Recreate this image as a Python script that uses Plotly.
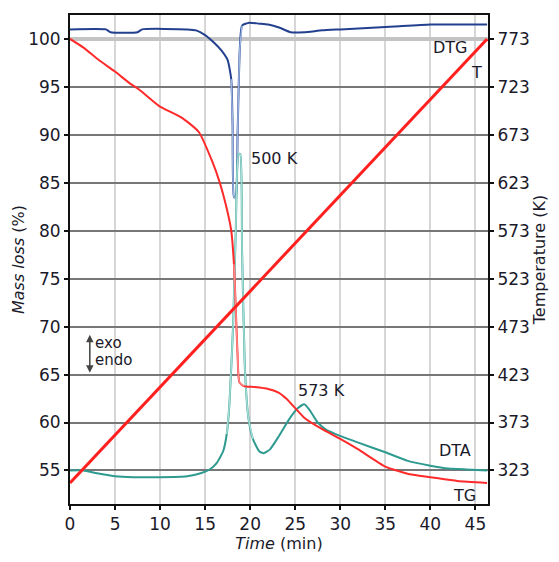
import plotly.graph_objects as go

# ---------------- data ----------------
time_ticks = [0, 5, 10, 15, 20, 25, 30, 35, 40, 45]
mass_ticks = [55, 60, 65, 70, 75, 80, 85, 90, 95, 100]
temp_ticks = [323, 373, 423, 473, 523, 573, 623, 673, 723, 773]

# TG curve (mass loss, %)
tg_t = [0, 1.5, 3.2, 5, 6.6, 7.7, 9.9, 12.4, 14.3, 15.8, 16.6, 17.3, 17.9, 18.2, 18.4, 18.6,
        18.8, 19.3, 20.5, 22, 23.2, 24, 25, 26, 28, 30, 32, 35, 37.7, 40, 43, 46.3]
tg_v = [100, 99.1, 97.8, 96.6, 95.4, 94.7, 93.0, 91.8, 90.3, 87.2, 85.1, 82.7, 80.0, 76.5,
        72.0, 67.0, 64.2, 63.8, 63.7, 63.5, 63.1, 62.5, 61.5, 60.5, 59.3, 58.3, 57.2, 55.4,
        54.6, 54.3, 53.9, 53.7]

# DTG curve (plotted on the mass scale)
dtg_t = [0, 4, 4.5, 7.5, 8, 13, 14, 15, 16, 16.8, 17.5, 17.9, 18.05, 18.2, 18.4, 18.6,
         18.85, 19.1, 19.9, 21, 22, 23.2, 24.5, 26, 28, 30, 32, 36, 40, 46.3]
dtg_v = [101.0, 101.0, 100.7, 100.7, 101.0, 101.0, 100.9, 100.4, 99.6, 98.8, 97.8, 95.8,
         91.0, 83.5, 83.5, 90.0, 99.0, 101.4, 101.7, 101.6, 101.5, 101.2, 100.7, 100.7,
         100.9, 101.0, 101.1, 101.3, 101.5, 101.5]

# DTA curve (plotted on the mass scale)
dta_t = [0, 1.5, 3, 5, 7, 10, 13, 14.5, 15.5, 16.3, 17.0, 17.4, 17.7, 18.1, 18.4, 18.7,
         18.9, 19.1, 19.4, 19.8, 20.3, 21.0, 21.5, 22.2, 23.2, 24.3, 25.3, 26.0, 26.6,
         27.5, 28.5, 30, 32, 35, 37.5, 40, 42, 44, 46.3]
dta_v = [55.0, 55.0, 54.7, 54.4, 54.3, 54.3, 54.4, 54.7, 55.1, 55.8, 57.0, 58.8, 62.0,
         70.0, 80.0, 88.0, 88.0, 78.0, 66.0, 60.5, 58.3, 57.0, 56.8, 57.2, 58.6, 60.3,
         61.5, 61.9, 61.3, 60.0, 59.2, 58.6, 57.9, 56.9, 56.0, 55.5, 55.2, 55.1, 55.0]

# Temperature programme (K)
temp_t = [0, 46.3]
temp_v = [310, 773]

FONT = "DejaVu Sans"
TXT = "#1a1a2a"
SM = dict(shape="spline", smoothing=0.5)

fig = go.Figure()

# thick light line at 100 % (drawn as a trace so it sits above the grid, below the curves)
fig.add_trace(go.Scatter(x=[0, 46.4], y=[100, 100], mode="lines",
                         line=dict(color="#c4c4c4", width=4), hoverinfo="skip"))

# DTG
fig.add_trace(go.Scatter(x=dtg_t, y=dtg_v, mode="lines",
                         line=dict(color="#23408f", width=2, **SM), hoverinfo="skip"))
fig.add_trace(go.Scatter(x=dtg_t[11:18], y=dtg_v[11:18], mode="lines",
                         line=dict(color="#9db6e0", width=1.5, **SM), hoverinfo="skip"))
# DTA
fig.add_trace(go.Scatter(x=dta_t, y=dta_v, mode="lines",
                         line=dict(color="#2e9a90", width=2, **SM), hoverinfo="skip"))
fig.add_trace(go.Scatter(x=dta_t[11:21], y=dta_v[11:21], mode="lines",
                         line=dict(color="#a6ded6", width=1.5, **SM), hoverinfo="skip"))
# TG
fig.add_trace(go.Scatter(x=tg_t, y=tg_v, mode="lines",
                         line=dict(color="#ff2a2a", width=2, **SM), hoverinfo="skip"))
fig.add_trace(go.Scatter(x=tg_t[13:18], y=tg_v[13:18], mode="lines",
                         line=dict(color="#ff8a8a", width=1.5, **SM), hoverinfo="skip"))
# Temperature
fig.add_trace(go.Scatter(x=temp_t, y=temp_v, mode="lines", yaxis="y2",
                         line=dict(color="#ff2020", width=3), hoverinfo="skip"))

annots = [
    dict(x=19.9, y=87.5, text="500 K", xanchor="left"),
    dict(x=25.1, y=63.3, text="573 K", xanchor="left"),
    dict(x=44.4, y=99.1, text="DTG", xanchor="right"),
    dict(x=45.9, y=96.5, text="T", xanchor="right"),
    dict(x=44.7, y=57.1, text="DTA", xanchor="right"),
    dict(x=45.3, y=52.4, text="TG", xanchor="right"),
]
for a in annots:
    fig.add_annotation(x=a["x"], y=a["y"], xref="x", yref="y", text=a["text"],
                       xanchor=a["xanchor"], yanchor="middle", showarrow=False,
                       font=dict(family=FONT, size=16, color=TXT))

# exo / endo
fig.add_annotation(x=2.2, y=65.2, xref="x", yref="y", ax=2.2, ay=69.3, axref="x", ayref="y",
                   text="", showarrow=True, arrowhead=2, arrowside="end+start",
                   arrowsize=1, arrowwidth=1.5, arrowcolor="#444")
fig.add_annotation(x=2.5, y=68.3, xref="x", yref="y", text="exo", xanchor="left",
                   yanchor="middle", showarrow=False, font=dict(family=FONT, size=15, color=TXT))
fig.add_annotation(x=2.5, y=66.5, xref="x", yref="y", text="endo", xanchor="left",
                   yanchor="middle", showarrow=False, font=dict(family=FONT, size=15, color=TXT))

fig.update_layout(
    width=559, height=562,
    margin=dict(l=70, r=71, t=15, b=53),
    paper_bgcolor="white", plot_bgcolor="white",
    showlegend=False,
    font=dict(family=FONT, size=17, color=TXT),
    xaxis=dict(range=[0, 46.4], tickvals=time_ticks, showgrid=True,
               gridcolor="#d6d6d6", gridwidth=2, zeroline=False,
               showline=True, linecolor="#111", linewidth=2, mirror=True,
               ticks="outside", ticklen=4, tickwidth=1.5, tickcolor="#111",
               title=dict(text="<i>Time</i> (min)", standoff=4,
                          font=dict(family=FONT, size=16, color=TXT))),
    yaxis=dict(range=[51.5, 102.5], tickvals=mass_ticks, showgrid=True,
               gridcolor="#777", gridwidth=1.5, zeroline=False,
               showline=True, linecolor="#111", linewidth=2,
               ticks="outside", ticklen=4, tickwidth=1.5, tickcolor="#111",
               title=dict(text="<i>Mass loss</i> (%)", standoff=0,
                          font=dict(family=FONT, size=16, color=TXT))),
    yaxis2=dict(range=[288, 798], tickvals=temp_ticks, overlaying="y", side="right",
                showgrid=False, zeroline=False,
                showline=True, linecolor="#111", linewidth=2,
                ticks="outside", ticklen=4, tickwidth=1.5, tickcolor="#111",
                title=dict(text="Temperature (K)", standoff=0,
                           font=dict(family=FONT, size=16, color=TXT))),
)

fig.write_html("out.html")
